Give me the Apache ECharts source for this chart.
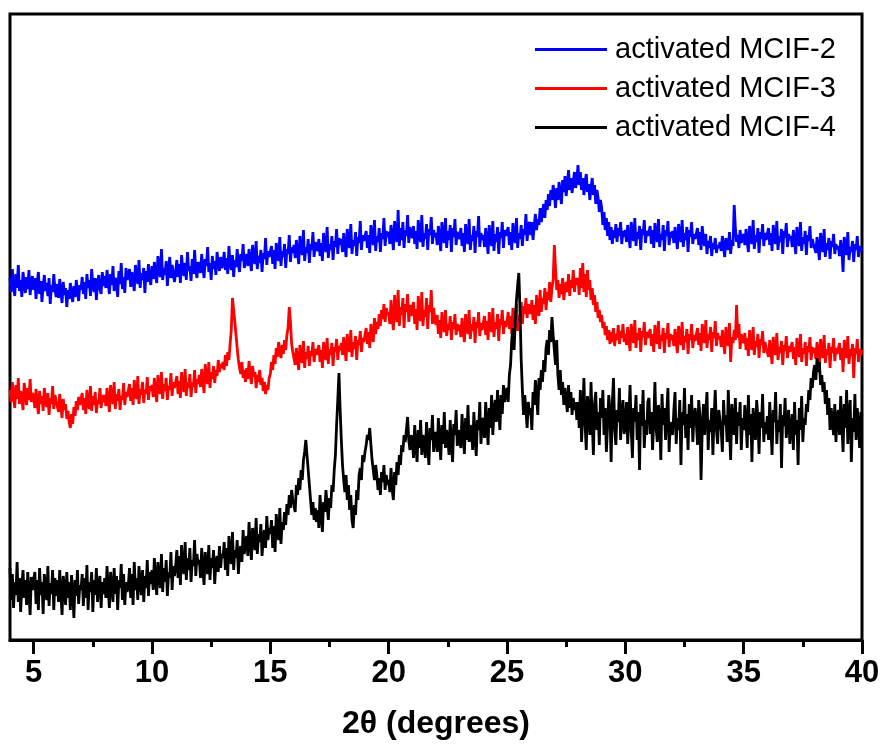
<!DOCTYPE html>
<html><head><meta charset="utf-8">
<script src="https://cdn.jsdelivr.net/npm/echarts@6/dist/echarts.min.js"></script>
<style>html,body{margin:0;padding:0;background:#fff}#c{width:885px;height:751px}</style>
</head><body><div id="c"></div>
<script>
// 2θ sampling of the traces
const xStart = 4.0, xStep = 0.05;
const seriesNames = ['activated MCIF-2', 'activated MCIF-3', 'activated MCIF-4'];
const tickLabels = [5, 10, 15, 20, 25, 30, 35, 40];
const minorTicks = [7.5, 12.5, 17.5, 22.5, 27.5, 32.5, 37.5];

// intensity (a.u., offset traces) from 4.0 to 40.0 deg, one row per degree
const mcif2 = [
362,348,371,355,344,366,352,375,349,360,343,368,356,347,363,351,370,345,358,364,
350,362,341,357,368,346,359,338,353,365,349,357,344,362,336,355,348,366,351,343,
356,342,361,348,337,358,345,352,333,350,341,357,346,338,354,343,360,349,339,355,
350,363,346,358,341,366,352,360,344,371,355,348,362,340,357,365,351,346,368,354,
364,352,370,357,346,366,355,374,349,362,358,343,369,356,377,351,363,347,372,360,
359,371,353,368,361,349,375,364,356,380,352,367,360,372,347,369,358,376,362,355,
374,361,378,366,357,384,369,363,391,360,372,365,379,354,370,383,362,375,367,358,
368,380,363,376,357,385,371,364,377,360,388,369,374,359,381,366,390,370,362,378,
379,367,386,372,362,381,374,393,368,377,360,384,371,379,365,388,376,369,383,372,
375,388,370,382,366,394,377,370,385,363,380,373,391,376,368,386,379,396,372,381,
386,374,391,379,369,395,382,376,399,371,384,377,390,368,387,381,402,375,389,383,
382,394,376,390,371,397,385,379,403,374,389,383,396,372,391,386,405,378,393,387,
395,382,400,388,376,404,391,385,410,379,393,387,401,377,396,390,408,383,398,392,
389,401,384,397,379,407,394,388,413,382,396,390,404,380,399,393,411,386,402,395,
401,388,407,395,383,411,398,392,416,386,400,394,408,384,403,397,419,390,405,399,
398,409,392,405,387,415,401,395,420,389,404,398,412,388,407,401,422,394,409,403,
408,396,415,403,390,419,405,398,430,394,412,400,418,392,410,404,425,397,413,406,
402,414,396,409,391,420,404,398,425,393,407,401,416,390,411,405,423,396,410,403,
407,395,414,402,389,418,404,397,422,392,409,400,415,388,412,403,421,395,408,404,
401,412,394,407,388,416,402,396,421,390,405,399,414,387,409,403,424,393,407,400,
405,393,412,400,386,415,401,394,419,389,406,398,413,386,408,402,418,392,410,404,
402,413,395,408,390,417,403,397,422,392,407,401,415,394,411,405,426,399,414,418,
405,418,400,414,426,410,421,415,432,418,428,436,422,440,430,446,434,450,440,455,
445,432,452,440,458,446,436,460,448,464,444,455,470,450,462,447,458,468,452,460,
475,455,468,450,462,445,458,466,448,456,440,452,462,445,455,436,450,442,428,440,
432,415,428,410,422,404,418,400,413,396,410,402,416,398,412,404,418,396,409,403,
410,398,415,403,392,418,405,399,422,394,408,401,414,390,411,405,420,397,409,404,
404,414,396,410,392,417,403,398,421,393,406,400,415,389,410,404,419,395,408,402,
409,397,413,402,391,416,404,398,420,393,407,400,413,388,410,403,418,396,406,401,
402,412,395,408,390,414,400,394,406,386,399,392,404,384,397,391,402,387,395,392,
398,389,404,393,383,402,395,390,408,386,400,394,435,412,398,405,392,410,397,402,
406,395,411,399,388,414,402,396,420,391,405,398,412,387,408,401,416,394,407,400,
401,412,395,407,389,415,402,396,419,390,404,398,411,386,409,402,417,393,406,400,
404,393,410,398,386,413,400,394,418,389,403,396,409,385,405,399,414,392,401,396,
398,387,403,392,380,407,394,388,411,383,397,390,402,381,399,393,406,386,396,391,
394,384,400,389,368,403,391,385,408,380,393,388,399,378,396,390,404,383,394,389,
392
];
const mcif3 = [
250,238,258,244,232,255,241,262,236,249,243,230,257,246,235,252,240,261,238,247,
243,232,251,238,226,249,236,244,229,252,240,233,247,225,242,236,254,231,245,239,
240,228,246,234,222,241,230,236,221,229,218,212,226,216,233,224,239,230,243,235,
236,247,230,242,226,250,237,231,254,229,244,235,248,227,240,236,252,232,245,238,
245,234,252,240,228,255,241,236,258,231,246,239,251,230,244,240,257,235,248,243,
244,256,239,252,235,260,246,241,264,236,251,245,258,237,250,246,263,240,254,249,
255,243,262,250,238,265,251,246,268,241,256,249,262,240,254,250,267,244,258,252,
252,264,246,259,242,268,254,248,271,244,258,252,266,243,257,253,270,247,261,256,
265,253,271,259,247,276,262,256,278,252,268,261,274,257,270,264,280,268,276,272,
278,270,285,274,288,280,296,310,342,330,318,305,292,280,272,266,278,262,270,258,
272,261,279,266,256,274,263,268,252,265,258,270,255,262,249,258,246,255,250,262,
266,278,270,285,276,292,283,298,288,282,295,286,300,290,305,312,333,318,296,288,
286,275,292,280,270,295,283,277,299,272,288,281,294,274,289,284,298,278,291,285,
283,295,278,290,272,298,286,280,302,276,291,285,297,274,293,288,301,280,294,290,
297,285,303,291,279,306,294,288,310,283,298,291,304,280,300,295,309,288,302,298,
300,312,296,308,292,316,304,298,322,306,318,311,326,314,330,321,336,318,332,325,
328,316,340,322,310,345,326,318,350,314,333,325,342,312,336,328,346,318,335,324,
322,338,316,331,310,344,325,319,348,314,330,323,342,311,335,328,350,316,332,320,
315,325,306,320,302,328,314,308,330,304,316,310,324,300,318,311,326,305,316,309,
315,303,322,309,298,326,312,306,330,301,316,309,323,297,318,312,328,304,317,310,
312,324,305,319,300,328,314,308,332,303,318,311,326,299,321,315,330,306,319,313,
318,328,311,324,306,332,319,313,336,309,325,318,338,316,334,326,342,322,336,330,
326,340,320,335,316,345,330,324,350,328,342,336,352,330,348,340,358,338,352,360,
395,372,350,360,342,356,346,362,340,352,358,348,366,344,360,352,370,348,362,355,
362,345,372,352,377,348,366,343,370,350,360,340,352,335,345,328,338,322,330,318,
325,312,318,305,314,300,310,296,308,298,312,294,306,300,315,296,309,302,316,298,
306,295,313,300,289,316,303,297,320,292,307,300,312,288,309,303,318,295,308,302,
300,311,294,306,288,315,302,296,319,291,305,299,312,287,307,301,317,293,306,300,
305,294,311,299,287,314,301,295,318,290,304,298,311,286,306,300,316,292,305,299,
301,312,295,307,289,316,303,297,320,292,306,300,313,288,308,302,319,294,307,301,
304,293,310,298,286,313,300,294,317,278,303,297,310,300,335,302,316,291,306,300,
297,307,290,302,284,310,296,290,313,285,299,293,306,282,301,295,309,287,298,292,
294,283,300,288,276,303,290,285,307,280,293,287,299,275,295,289,304,282,294,288,
288,298,281,293,275,302,289,283,306,278,292,286,298,274,294,288,303,280,293,287,
292,281,298,287,274,301,288,282,305,277,291,285,297,272,293,287,302,279,292,286,
287,297,280,292,268,300,288,282,304,276,291,284,296,262,292,286,301,278,291,285,
290
];
const mcif4 = [
72,40,66,32,58,45,78,38,62,28,55,70,42,60,35,68,48,25,63,50,
48,68,36,60,30,72,45,58,26,66,52,40,74,34,57,46,70,30,62,44,
60,38,70,46,25,64,52,35,68,42,58,30,65,48,22,60,44,70,36,55,
50,66,34,62,42,75,30,58,48,68,28,60,45,72,38,56,64,32,58,46,
62,42,74,50,32,68,55,38,72,46,64,30,60,52,76,40,66,35,58,48,
55,72,42,66,35,78,50,62,40,74,58,45,70,38,64,52,80,44,68,56,
70,50,82,60,45,78,62,52,86,48,72,58,80,44,68,62,88,50,74,64,
74,90,62,84,55,95,72,66,98,60,82,70,92,58,80,74,100,64,86,76,
80,62,92,70,55,88,74,66,95,60,82,72,90,56,78,84,68,94,72,86,
82,98,70,92,64,104,85,76,108,70,90,82,100,66,88,94,78,110,86,96,
104,84,118,96,80,112,100,90,122,86,106,98,116,84,102,110,92,124,100,112,
106,120,92,114,88,126,108,100,132,96,118,110,128,115,136,125,145,132,150,140,
140,128,155,145,162,150,170,160,180,188,200,185,170,155,140,125,138,120,132,118,
130,112,145,125,108,138,128,150,135,120,142,132,155,148,170,185,215,240,267,230,
200,175,160,148,165,140,155,130,145,120,112,135,125,150,140,165,172,160,185,178,
188,195,205,200,212,195,180,170,160,175,165,150,162,145,168,158,175,150,165,155,
160,148,172,150,140,168,155,178,165,185,175,195,188,205,198,210,223,200,190,205,
200,182,215,195,178,210,192,220,185,205,198,182,218,196,175,212,200,225,188,205,
208,188,222,200,180,215,196,228,192,210,202,185,220,198,178,216,205,230,194,210,
210,192,226,205,186,222,200,235,198,215,208,190,228,204,184,220,210,238,196,218,
222,202,238,215,195,232,212,245,205,228,240,218,250,230,210,245,226,255,238,248,
252,238,265,275,300,312,290,320,340,355,367,330,280,250,225,245,230,212,238,225,
232,210,248,235,260,245,225,262,250,270,258,280,268,292,300,285,310,298,323,305,
290,275,300,265,250,270,245,258,235,252,240,228,255,232,248,225,242,230,238,220,
238,212,250,198,226,262,215,190,244,230,205,258,220,185,236,248,210,228,195,242,
222,250,205,232,188,215,245,228,178,238,262,210,195,230,218,252,200,226,240,206,
215,238,196,224,255,208,182,232,218,245,200,228,170,236,214,250,192,220,205,238,
242,206,228,190,218,258,212,198,235,222,180,246,215,232,200,226,252,188,218,210,
205,230,248,196,222,210,240,175,228,215,252,202,226,190,236,212,245,198,222,232,
218,195,240,225,160,212,236,205,228,248,190,220,208,232,185,224,250,210,196,230,
228,210,188,240,215,225,198,250,212,180,236,220,205,242,196,228,214,238,190,222,
210,235,218,192,245,205,226,178,232,214,200,240,222,186,228,212,246,198,218,206,
224,200,238,212,185,230,218,248,196,220,208,236,172,225,214,242,202,218,230,196,
212,226,190,238,205,220,175,232,210,244,198,222,215,236,228,250,240,262,252,268,
275,260,282,268,278,255,265,248,258,236,250,225,242,210,232,218,205,236,198,225,
230,205,244,215,188,236,212,250,196,226,240,178,222,208,246,200,232,215,192,228,
225
];
const colors = ['#0000ff', '#ff0000', '#000000'];

function pairs(arr) { return arr.map((v, i) => [+(xStart + i * xStep).toFixed(2), v]); }

const chart = echarts.init(document.getElementById('c'), null, { renderer: 'canvas' });
const font = "'Liberation Sans', Arial, Helvetica, sans-serif";
chart.setOption({
  animation: false,
  backgroundColor: '#fff',
  grid: { left: 10, right: 23, top: 14, bottom: 111, show: true, borderColor: '#000', borderWidth: 3, backgroundColor: 'transparent' },
  legend: {
    orient: 'vertical', left: 530, top: 30, itemGap: 10,
    icon: 'rect', itemWidth: 72, itemHeight: 3,
    data: seriesNames,
    textStyle: { fontFamily: font, fontSize: 29, color: '#000', padding: [0, 0, 0, 3], lineHeight: 28 }
  },
  xAxis: [{
    type: 'value', min: 4, max: 40, position: 'bottom',
    name: '2θ (degrees)', nameLocation: 'middle', nameGap: 68,
    nameTextStyle: { fontFamily: font, fontSize: 32, fontWeight: 'bold', color: '#000' },
    axisLine: { show: true, lineStyle: { color: '#000', width: 3 } },
    axisTick: { show: true, inside: false, length: 14, lineStyle: { color: '#000', width: 3 }, customValues: tickLabels },
    axisLabel: { fontFamily: font, fontSize: 31, fontWeight: 'bold', color: '#000', margin: 18, customValues: tickLabels },
    splitLine: { show: false }
  }, {
    type: 'value', min: 4, max: 40, position: 'bottom',
    axisLine: { show: false },
    axisTick: { show: true, inside: false, length: 7, lineStyle: { color: '#000', width: 3 }, customValues: minorTicks },
    axisLabel: { show: false },
    splitLine: { show: false }
  }],
  yAxis: { type: 'value', min: 0, max: 626, show: false },
  series: [mcif2, mcif3, mcif4].map((d, k) => ({
    name: seriesNames[k], type: 'line', data: pairs(d), xAxisIndex: 0,
    showSymbol: false, symbol: 'none', smooth: false,
    lineStyle: { color: colors[k], width: 2.8 }, itemStyle: { color: colors[k] },
    z: 2 + k
  }))
});
</script></body></html>
